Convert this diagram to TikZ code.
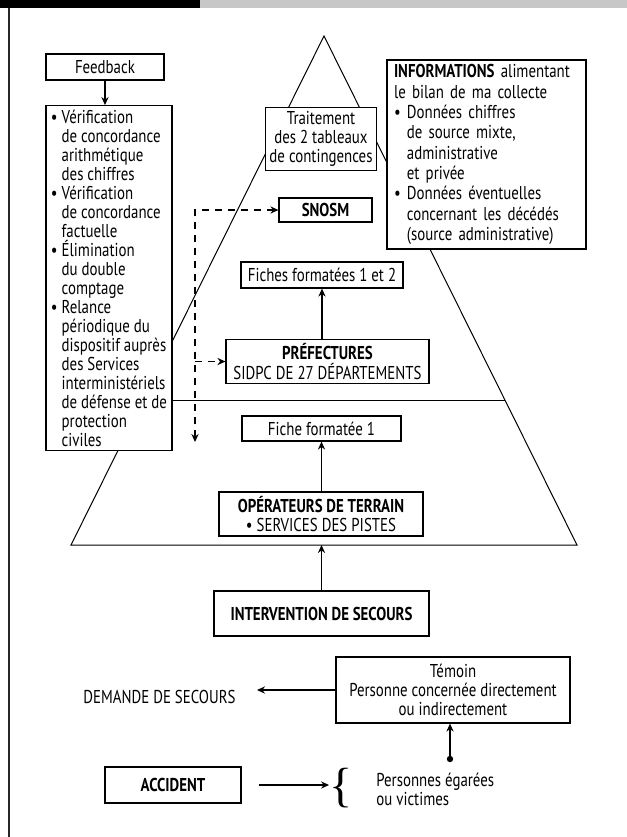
\documentclass[tikz,border=0pt]{standalone}
\usepackage{fontspec}
\setmainfont{PT Sans}[FakeStretch=0.8]
\newfontfamily\bracefont{Liberation Serif}
\usetikzlibrary{calc,arrows.meta}

\newcommand{\bind}{\phantom{\textbullet\ }}

\tikzset{
  box/.style={draw, line width=0.6pt, fill=white, inner sep=2pt, align=center},
  arr/.style={->, line width=0.6pt},
  dashline/.style={line width=0.6pt, dash pattern=on 3.5pt off 3pt},
  txt/.style={inner sep=0pt, align=left},
}

\begin{document}
\begin{tikzpicture}[x=0.5pt, y=-0.5pt, font=\fontsize{9.3}{9.5}\selectfont,
   >={Stealth[length=4pt,width=3.6pt]}]
   \useasboundingbox (0,0) rectangle (627,837);
   % header and frame
   \fill (0,0) rectangle (200,8);
   \fill[black!22] (200,0) rectangle (627,8);
   \draw[line width=1pt, black!85] (9,8) -- (9,837);

   % pyramid
   \coordinate (apex) at (324,36);
   \coordinate (bl) at (71,545);
   \coordinate (br) at (577,545);
   \draw[line width=0.5pt] (apex) -- (bl) -- (br) -- cycle;
   \draw[line width=0.5pt] ($(apex)!0.717!(bl)$) -- ($(apex)!0.717!(br)$);

   % boxes
   \node[box, minimum width=59pt, minimum height=13pt] (feedback) at (105,67) {Feedback};
   \node[box, minimum width=63pt, minimum height=165pt, align=left] (checks) at (109,278)
     {\textbullet\ Vérification\\ \bind de concordance\\ \bind arithmétique\\ \bind des chiffres\\
      \textbullet\ Vérification\\ \bind de concordance\\ \bind factuelle\\
      \textbullet\ Élimination\\ \bind du double\\ \bind comptage\\
      \textbullet\ Relance\\ \bind périodique du\\ \bind dispositif auprès\\ \bind des Services\\
      \bind interministériels\\ \bind de défense et de\\ \bind protection\\ \bind civiles};
   \node[box, minimum width=55pt, minimum height=29pt] (traitement) at (321,139)
     {Traitement\\des 2 tableaux\\de contingences};
   \node[box, minimum width=99.5pt, minimum height=94.5pt, inner xsep=3.5pt, text width=92.5pt,
     align=left, font=\fontsize{9.3}{10.15}\selectfont] (info) at (486.5,154.5)
     {\textbf{INFORMATIONS} alimentant\\ le bilan de ma collecte\\
      \textbullet\ Données chiffres\\ \bind de source mixte,\\ \bind administrative\\ \bind et privée\\
      \textbullet\ Données éventuelles\\ \bind concernant les décédés\\ \bind (source administrative)};
   \node[box, minimum width=46.5pt, minimum height=12pt, font=\fontsize{9.3}{9.5}\bfseries] (snosm) at (325.5,210) {SNOSM};
   \node[box, minimum width=81pt, minimum height=13pt] (fiches) at (322,275) {Fiches formatées 1 et 2};
   \node[box, minimum width=101.5pt, minimum height=21.5pt, font=\fontsize{9.3}{10}\selectfont] (pref) at (327.5,361.5)
     {\textbf{PRÉFECTURES}\\SIDPC DE 27 DÉPARTEMENTS};
   \node[box, minimum width=79.5pt, minimum height=12.5pt] (fiche) at (321.5,428.5) {Fiche formatée 1};
   \node[box, minimum width=102pt, minimum height=22pt] (oper) at (321,514)
     {\textbf{OPÉRATEURS DE TERRAIN}\\\textbullet\ SERVICES DES PISTES};
   \node[box, minimum width=107.5pt, minimum height=22.5pt, font=\fontsize{9.3}{9.5}\bfseries] (interv) at (321.5,613.5)
     {INTERVENTION DE SECOURS};
   \node[box, minimum width=117pt, minimum height=33pt] (temoin) at (453,690)
     {Témoin\\Personne concernée directement\\ou indirectement};
   \node[txt] (demande) at (159.5,697) {DEMANDE DE SECOURS};
   \node[box, minimum width=68pt, minimum height=18pt, font=\fontsize{9.3}{9.5}\bfseries] (accident) at (173,785) {ACCIDENT};
   \node[txt, font=\bracefont\fontsize{24}{24}\selectfont] (brace) at (341,788) {\{};
   \node[txt, anchor=west] (victimes) at (376,789) {Personnes égarées\\ou victimes};

   % connectors
   \draw[arr] (feedback.south) -- (feedback.south |- checks.north);
   \draw[arr] (pref.north -| fiches.south) -- (fiches.south);
   \draw[arr] (oper.north -| fiche.south) -- (fiche.south);
   \coordinate (basemid) at (interv.north |- bl);
   \draw[arr] (interv.north) -- (basemid);

   \coordinate (dtop) at (195,210);
   \coordinate (dbot) at (195,442);
   \draw[dashline, <->] (dbot) -- (dtop) -- (snosm.west);
   \draw[dashline, ->] (dtop |- pref.west) -- (pref.west);

   \draw[arr, shorten >=10.5pt] (temoin.west) -- (temoin.west -| demande.east);
   \coordinate (dot) at (450,759);
   \fill (dot) circle (1.6pt);
   \draw[arr] (dot) -- (dot |- temoin.south);

   \draw[arr, shorten <=8.5pt] (accident.east) -- (accident.east -| brace.west);
\end{tikzpicture}
\end{document}
